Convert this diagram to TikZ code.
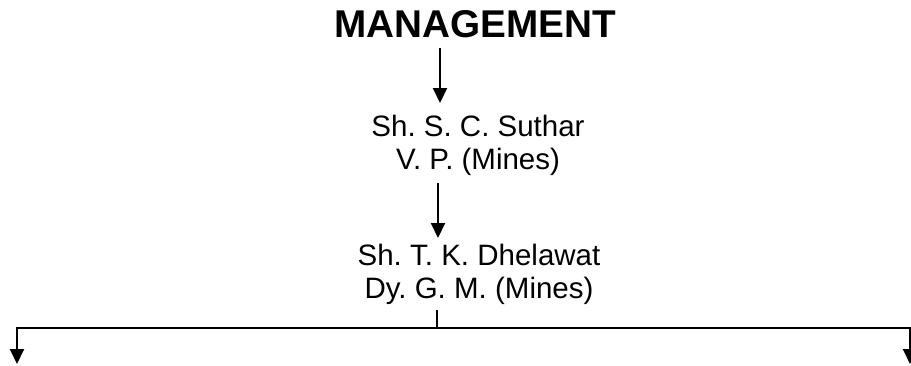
\documentclass[tikz,border=0pt]{standalone}
\usepackage{fontspec}
\setmainfont{Liberation Sans}
\usetikzlibrary{arrows.meta}
\frenchspacing
\begin{document}
\begin{tikzpicture}[x=1pt,y=1pt,
  title/.style={font=\fontsize{38.7}{44}\selectfont\bfseries, inner sep=0pt, anchor=base},
  person/.style={font=\fontsize{29.5}{33}\selectfont, inner sep=0pt, align=center, anchor=base},
  link/.style={line width=2pt},
  arr/.style={link, -{Triangle[width=14pt,length=15pt]}}]
\useasboundingbox (0,0) rectangle (911,-365);
% heads of the chain (base = baseline of the last line)
\node[title]  (mgmt)   at (475,-37)  {MANAGEMENT};
\node[person] (suthar) at (478,-169) {Sh. S. C. Suthar\\V. P. (Mines)};
\node[person] (dhel)   at (479,-298) {Sh. T. K. Dhelawat\\Dy. G. M. (Mines)};
% stems of the arrows
\coordinate (a1) at (440,-48);  \coordinate (b1) at (440,-103);
\coordinate (a2) at (438,-183); \coordinate (b2) at (438,-238);
\coordinate (t)  at (437,-310); \coordinate (bar) at (437,-328);
\coordinate (left)  at (17,-364);
\coordinate (right) at (910,-364);
\draw[arr] (a1) -- (b1);
\draw[arr] (a2) -- (b2);
\draw[link] (t) -- (bar);
\draw[arr] (bar) -| (left);
\draw[arr] (bar) -| (right);
\end{tikzpicture}
\end{document}
